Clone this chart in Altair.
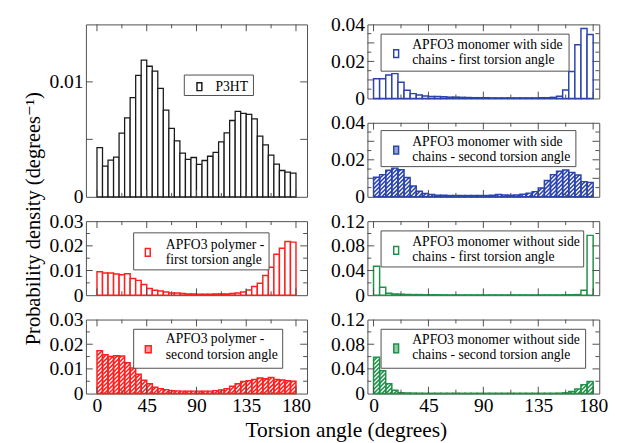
import altair as alt
import numpy as np
import pandas as pd

# ---------------- data ----------------
BIN_STARTS = list(range(0, 180, 5))   # 36 bins: 0-5, 5-10, ..., 175-180 degrees
BIN_WIDTH = 5
X_MAJOR = [0, 45, 90, 135, 180]
X_MINOR = [22.5, 67.5, 112.5, 157.5]

P3HT = [0.00427, 0.00268, 0.00319, 0.00345, 0.00554, 0.00686, 0.00864, 0.01056, 0.01189,
        0.01136, 0.01093, 0.00944, 0.00754, 0.00596, 0.00486, 0.00381, 0.00325, 0.00342,
        0.00282, 0.00316, 0.00353, 0.00387, 0.00477, 0.00556, 0.00664, 0.00743, 0.00726,
        0.00718, 0.00678, 0.00528, 0.00452, 0.00362, 0.00285, 0.00229, 0.00215, 0.00206]

POLY_FIRST = [0.0095, 0.0090, 0.0090, 0.0086, 0.0083, 0.0087, 0.0068, 0.0060, 0.0043, 0.0027,
              0.0020, 0.0017, 0.0013, 0.0009, 0.0009, 0.0007, 0.0005, 0.0005, 0.0004, 0.0004,
              0.0004, 0.0005, 0.0005, 0.0005, 0.0007, 0.0009, 0.0013, 0.0021, 0.0035, 0.0048,
              0.0080, 0.0113, 0.0166, 0.0190, 0.0218, 0.0215]

POLY_SECOND = [0.0174, 0.0157, 0.0150, 0.0153, 0.0152, 0.0125, 0.0104, 0.0078, 0.0054, 0.0040,
               0.0026, 0.0020, 0.0016, 0.0012, 0.0011, 0.0010, 0.0010, 0.0010, 0.0010, 0.0010,
               0.0010, 0.0012, 0.0015, 0.0020, 0.0030, 0.0040, 0.0049, 0.0052, 0.0057, 0.0063,
               0.0060, 0.0065, 0.0057, 0.0055, 0.0052, 0.0050]

SIDE_FIRST = [0.0106, 0.0106, 0.0127, 0.0134, 0.0087, 0.0044, 0.0026, 0.0019, 0.0013, 0.0011,
              0.0010, 0.0009, 0.0007, 0.0007, 0.0006, 0.0005, 0.0004, 0.0004, 0.0004, 0.0003,
              0.0003, 0.0003, 0.0003, 0.0003, 0.0003, 0.0003, 0.0003, 0.0004, 0.0004, 0.0006,
              0.0012, 0.0046, 0.0145, 0.0290, 0.0378, 0.0346]

SIDE_SECOND = [0.0106, 0.0120, 0.0144, 0.0155, 0.0146, 0.0104, 0.0058, 0.0030, 0.0018, 0.0012,
               0.0009, 0.0008, 0.0007, 0.0007, 0.0007, 0.0007, 0.0007, 0.0007, 0.0007, 0.0008,
               0.0012, 0.0010, 0.0008, 0.0010, 0.0014, 0.0020, 0.0028, 0.0048, 0.0088, 0.0120,
               0.0138, 0.0145, 0.0132, 0.0118, 0.0082, 0.0078]

NOSIDE_FIRST = [0.0470, 0.0130, 0.0030, 0.0020, 0.0015, 0.0012, 0.0010, 0.0010, 0.0008, 0.0008,
                0.0007, 0.0006, 0.0005, 0.0005, 0.0005, 0.0005, 0.0005, 0.0005, 0.0005, 0.0005,
                0.0005, 0.0005, 0.0005, 0.0005, 0.0005, 0.0005, 0.0005, 0.0005, 0.0005, 0.0005,
                0.0005, 0.0006, 0.0008, 0.0010, 0.0080, 0.0970]

NOSIDE_SECOND = [0.0590, 0.0370, 0.0160, 0.0053, 0.0015, 0.0010, 0.0008, 0.0006, 0.0005, 0.0005,
                 0.0005, 0.0005, 0.0005, 0.0005, 0.0005, 0.0005, 0.0005, 0.0005, 0.0005, 0.0005,
                 0.0005, 0.0005, 0.0005, 0.0005, 0.0005, 0.0005, 0.0005, 0.0005, 0.0005, 0.0005,
                 0.0007, 0.0012, 0.0035, 0.0075, 0.0145, 0.0195]

# ---------------- style ----------------
FONT = "Liberation Serif, 'Times New Roman', 'DejaVu Serif', serif"
FRAME = "#4d4d4d"
BLACK = "#1a1a1a"
BLUE = "#2a43ad"
RED = "#ff1f1f"
GREEN = "#1f9148"
LIGHT = {BLUE: "#95a3dc", RED: "#ff9a9a", GREEN: "#8fcca6", BLACK: "#ffffff"}
LEG_FS = 14

LEFT_DOM, LEFT_W = [-10, 190], 227
RIGHT_DOM, RIGHT_W = [-5, 185], 238


def hatch_segments(values, xdom, width, ymax, height, spacing=4.2):
    kx = width / (xdom[1] - xdom[0])
    ky = height / ymax
    rows = []
    for start, v in zip(BIN_STARTS, values):
        X0 = (start - xdom[0]) * kx
        X1 = (start + BIN_WIDTH - xdom[0]) * kx
        Hb = v * ky
        kmin = int(np.floor((X0 - Hb) / spacing)) - 1
        kmax = int(np.ceil(X1 / spacing)) + 1
        for k in range(kmin, kmax + 1):
            c = k * spacing
            lo = max(X0, c)
            hi = min(X1, c + Hb)
            if hi - lo > 0.3:
                rows.append({"hx": lo / kx + xdom[0], "hy": (lo - c) / ky,
                             "hx2": hi / kx + xdom[0], "hy2": (hi - c) / ky})
    return pd.DataFrame(rows)


def one():
    return pd.DataFrame({"k": [0]})


def panel(values, color, hatched, ymax, ylabels, ymajor, yminor, xdom, width, height,
          lines, box, swatch, text_x, baselines, bottom=False, ytitle=None, sw=1.5,
          hidden_top=None):
    bars = pd.DataFrame({"start": BIN_STARTS,
                         "end": [s + BIN_WIDTH for s in BIN_STARTS],
                         "density": values})
    xs = alt.Scale(domain=xdom, nice=False, zero=False)
    ys = alt.Scale(domain=[0, ymax], nice=False, zero=False)

    if bottom:
        xaxis = alt.Axis(values=X_MAJOR, ticks=False, tickSize=0, domain=False, grid=False,
                         labelPadding=2, labelFontSize=20, format="d", title=None)
    else:
        xaxis = None
    ykw = dict(ticks=False, tickSize=0, domain=False, grid=False,
               labelPadding=3, labelFontSize=20, format=".2~f")
    if hidden_top is not None:
        ykw["values"] = ylabels + [hidden_top]
        ykw["labelExpr"] = "datum.value > %g ? ' ' : datum.label" % (hidden_top * 0.999)
    else:
        ykw["values"] = ylabels
    if ytitle:
        ykw.update(title=ytitle, titleX=ytitle_pos[0], titleY=ytitle_pos[1], titleAngle=270,
                   titleAlign="center", titleBaseline="alphabetic", titleFontSize=21)
    else:
        ykw.update(title=None)
    yaxis = alt.Axis(**ykw)

    def X(f):
        return alt.X(f, scale=xs, axis=xaxis)

    def Y(f):
        return alt.Y(f, scale=ys, axis=yaxis)

    layers = []
    base = alt.Chart(bars)
    if hatched:
        layers.append(base.mark_rect(fill=color, strokeWidth=0).encode(
            x=X("start:Q"), x2="end:Q", y=Y("density:Q"), y2=alt.datum(0)))
        hdf = hatch_segments(values, xdom, width, ymax, height)
        layers.append(alt.Chart(hdf).mark_rule(color="white", strokeWidth=1.4).encode(
            x=X("hx:Q"), y=Y("hy:Q"), x2="hx2:Q", y2="hy2:Q"))
        layers.append(base.mark_rect(fill="white", fillOpacity=0, stroke=color,
                                     strokeWidth=sw).encode(
            x=X("start:Q"), x2="end:Q", y=Y("density:Q"), y2=alt.datum(0)))
    else:
        layers.append(base.mark_rect(fill="white", stroke=color, strokeWidth=sw).encode(
            x=X("start:Q"), x2="end:Q", y=Y("density:Q"), y2=alt.datum(0)))

    # inward ticks on all four sides
    def xt(pos, length):
        d = pd.DataFrame({"pos": pos})
        ch = alt.Chart(d).mark_rule(color=FRAME, strokeWidth=1)
        return [ch.encode(x=X("pos:Q"), y=alt.value(height), y2=alt.value(height - length)),
                ch.encode(x=X("pos:Q"), y=alt.value(0), y2=alt.value(length))]

    def yt(pos, length):
        if not pos:
            return []
        d = pd.DataFrame({"pos": pos})
        ch = alt.Chart(d).mark_rule(color=FRAME, strokeWidth=1)
        return [ch.encode(y=Y("pos:Q"), x=alt.value(0), x2=alt.value(length)),
                ch.encode(y=Y("pos:Q"), x=alt.value(width), x2=alt.value(width - length))]

    layers += xt(X_MAJOR, 7) + xt(X_MINOR, 4) + yt(ymajor, 7) + yt(yminor, 4)

    # legend box
    layers.append(alt.Chart(one()).mark_rect(fill="white", stroke=FRAME, strokeWidth=1).encode(
        x=alt.value(box[0]), x2=alt.value(box[1]), y=alt.value(box[2]), y2=alt.value(box[3])))
    layers.append(alt.Chart(one()).mark_rect(
        fill=LIGHT[color] if hatched else "white", stroke=color, strokeWidth=1.5).encode(
        x=alt.value(swatch[0]), x2=alt.value(swatch[1]), y=alt.value(swatch[2]),
        y2=alt.value(swatch[3])))
    for line, bl in zip(lines, baselines):
        layers.append(alt.Chart(pd.DataFrame({"t": [line]})).mark_text(
            font=FONT, fontSize=LEG_FS, align="left", baseline="alphabetic",
            color="black").encode(text="t:N", x=alt.value(text_x), y=alt.value(bl)))

    return alt.layer(*layers).properties(width=width, height=height)


ytitle_pos = (-48, 199)

p3ht = panel(P3HT, BLACK, False, 0.015, [0, 0.01], [0.005, 0.01], [], LEFT_DOM, LEFT_W, 177,
             ["P3HT"], (101, 172, 52, 73), (114, 119, 60, 68), 133, [68],
             ytitle="Probability density (degrees\u207b\u00b9)", sw=1.3, hidden_top=0.015)
poly1 = panel(POLY_FIRST, RED, False, 0.03, [0, 0.01, 0.02, 0.03], [0.01, 0.02],
              [0.005, 0.015, 0.025], LEFT_DOM, LEFT_W, 76,
              ["APFO3 polymer -", "first torsion angle"], (49, 188, 12, 50), (61, 66, 28, 36),
              82, [28.5, 44])
poly2 = panel(POLY_SECOND, RED, True, 0.03, [0, 0.01, 0.02, 0.03], [0.01, 0.02],
              [0.005, 0.015, 0.025], LEFT_DOM, LEFT_W, 76,
              ["APFO3 polymer -", "second torsion angle"], (49, 202, 10, 50), (61, 67, 27, 34),
              82, [24.5, 40], bottom=True)

side1 = panel(SIDE_FIRST, BLUE, False, 0.04, [0, 0.01, 0.02, 0.03, 0.04], [0.01, 0.02, 0.03],
              [0.005, 0.015, 0.025, 0.035], RIGHT_DOM, RIGHT_W, 76,
              ["APFO3 monomer with side", "chains - first torsion angle"],
              (14, 207, 10, 48), (27, 32, 26, 34), 46, [25, 40.5])
side2 = panel(SIDE_SECOND, BLUE, True, 0.04, [0, 0.01, 0.02, 0.03, 0.04], [0.01, 0.02, 0.03],
              [0.005, 0.015, 0.025, 0.035], RIGHT_DOM, RIGHT_W, 76,
              ["APFO3 monomer with side", "chains - second torsion angle"],
              (14, 214, 8, 45), (27, 32, 24, 32), 46, [24, 39.5])
noside1 = panel(NOSIDE_FIRST, GREEN, False, 0.12, [0, 0.04, 0.08, 0.12], [0.04, 0.08],
                [0.02, 0.06, 0.10], RIGHT_DOM, RIGHT_W, 76,
                ["APFO3 monomer without side", "chains - first torsion angle"],
                (14, 222, 10, 47), (27, 32, 26, 34), 46, [25, 40.5])
noside2 = panel(NOSIDE_SECOND, GREEN, True, 0.12, [0, 0.04, 0.08, 0.12], [0.04, 0.08],
                [0.02, 0.06, 0.10], RIGHT_DOM, RIGHT_W, 76,
                ["APFO3 monomer without side", "chains - second torsion angle"],
                (14, 224, 10, 50), (27, 32, 25, 34), 46, [25, 40.5], bottom=True)

left = alt.vconcat(p3ht, poly1, poly2, spacing=25, bounds="flush")
right = alt.vconcat(side1, side2, noside1, noside2, spacing=25, bounds="flush")

XTITLE = "Torsion angle (degrees)"

chart = alt.hconcat(left, right, spacing=18).properties(
    padding={"left": 14, "top": 0, "right": 0, "bottom": 0},
    title=alt.TitleParams(XTITLE, orient="bottom", anchor="middle", dx=32, offset=5,
                          font=FONT, fontSize=22, fontWeight="normal", color="black"),
).configure_view(stroke=FRAME, strokeWidth=1).configure_axis(
    labelFont=FONT, titleFont=FONT, labelColor="black", titleColor="black",
    titleFontWeight="normal")

chart.save("out.html", embed_options={"renderer": "svg", "actions": False})
